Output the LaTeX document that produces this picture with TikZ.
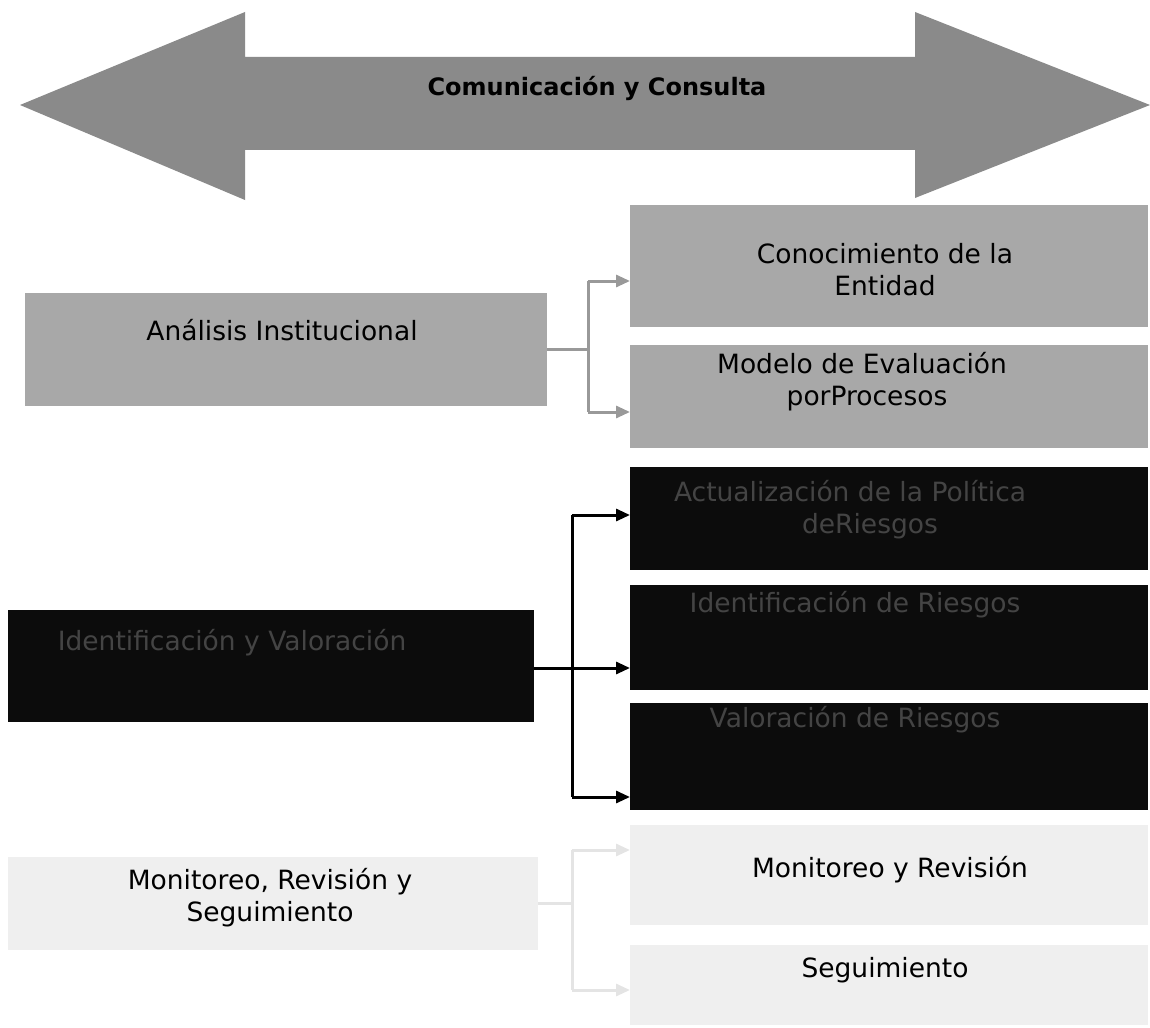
\documentclass[tikz,border=0pt]{standalone}
\usepackage{fontspec}
\setmainfont{DejaVu Sans}
\usetikzlibrary{arrows.meta}
\definecolor{arrowgray}{HTML}{8A8A8A}
\definecolor{midgray}{HTML}{A8A8A8}
\definecolor{lightbox}{HTML}{EFEFEF}
\definecolor{darkbox}{HTML}{0C0C0C}
\definecolor{darktext}{HTML}{444444}
\definecolor{conngray}{HTML}{999999}
\definecolor{connlight}{HTML}{E4E4E4}
\tikzset{
  box/.style={anchor=north west, inner sep=0pt, outer sep=0pt},
  txt/.style={font=\fontsize{26.5}{32}\selectfont, align=center, inner sep=0pt},
  dtxt/.style={txt, text=darktext},
  conn/.style={line width=3pt},
  tip/.style={-{Triangle[length=14pt,width=12pt]}},
}
\begin{document}
\begin{tikzpicture}[x=1pt,y=-1pt]
\useasboundingbox (0,0) rectangle (1150,1027);
% big double arrow
\fill[arrowgray] (20,105) -- (245,12) -- (245,57) -- (915,57) -- (915,12) -- (1150,105)
  -- (915,198) -- (915,150) -- (245,150) -- (245,200) -- cycle;
\node[txt, font=\bfseries\fontsize{24}{28}\selectfont] (com) at (597,88) {Comunicación y Consulta};
% left boxes
\node[box, fill=midgray, minimum width=522pt, minimum height=113pt] (ana) at (25,293) {};
\node[txt] (anat) at (282,330) {Análisis Institucional};
\node[box, fill=darkbox, minimum width=526pt, minimum height=112pt] (ide) at (8,610) {};
\node[dtxt] (idet) at (232,643) {Identificación y Valoración};
\node[box, fill=lightbox, minimum width=530pt, minimum height=93pt] (mon) at (8,857) {};
\node[txt] (mont) at (270,898) {Monitoreo, Revisión y\\Seguimiento};
% right boxes
\node[box, fill=midgray, minimum width=518pt, minimum height=122pt] (con) at (630,205) {};
\node[txt] (cont) at (885,270) {Conocimiento de la\\Entidad};
\node[box, fill=midgray, minimum width=518pt, minimum height=103pt] (mod) at (630,345) {};
\node[txt] (modt) at (862,382) {Modelo de Evaluación\\\hspace*{10pt}porProcesos};
\node[box, fill=darkbox, minimum width=518pt, minimum height=103pt] (pol) at (630,467) {};
\node[dtxt] (polt) at (850,510) {Actualización de la Política\\\hspace*{40pt}deRiesgos};
\node[box, fill=darkbox, minimum width=518pt, minimum height=105pt] (idr) at (630,585) {};
\node[dtxt] (idrt) at (855,605) {Identificación de Riesgos};
\node[box, fill=darkbox, minimum width=518pt, minimum height=107pt] (val) at (630,703) {};
\node[dtxt] (valt) at (855,720) {Valoración de Riesgos};
\node[box, fill=lightbox, minimum width=518pt, minimum height=100pt] (mor) at (630,825) {};
\node[txt] (mort) at (890,870) {Monitoreo y Revisión};
\node[box, fill=lightbox, minimum width=518pt, minimum height=80pt] (seg) at (630,945) {};
\node[txt] (segt) at (885,970) {Seguimiento};
% connectors
\coordinate (a1) at (588,349);
\coordinate (a2) at (588,281);
\coordinate (a3) at (588,412);
\draw[conn, conngray] (ana.east |- a1) -- (a1);
\draw[conn, conngray] (a2) -- (a3);
\draw[conn, conngray, tip] (a2) -- (con.west |- a2);
\draw[conn, conngray, tip] (a3) -- (mod.west |- a3);
\coordinate (b1) at (572,668);
\coordinate (b2) at (572,515);
\coordinate (b3) at (572,797);
\draw[conn, black, tip] (ide.east |- b1) -- (idr.west |- b1);
\draw[conn, black] (b2) -- (b3);
\draw[conn, black, tip] (b2) -- (pol.west |- b2);
\draw[conn, black, tip] (b3) -- (val.west |- b3);
\coordinate (c1) at (572,903);
\coordinate (c2) at (572,850);
\coordinate (c3) at (572,990);
\draw[conn, connlight] (mon.east |- c1) -- (c1);
\draw[conn, connlight] (c2) -- (c3);
\draw[conn, connlight, tip] (c2) -- (mor.west |- c2);
\draw[conn, connlight, tip] (c3) -- (seg.west |- c3);
\end{tikzpicture}
\end{document}
